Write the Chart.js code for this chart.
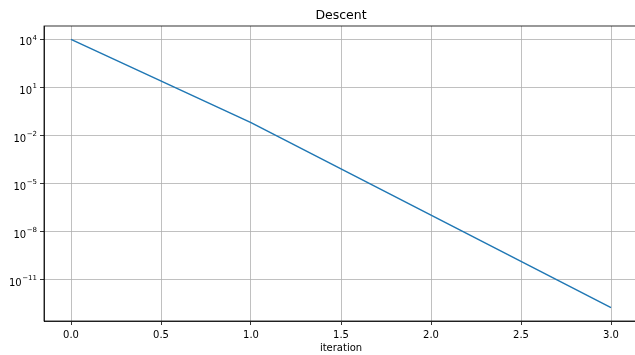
<!DOCTYPE html>
<html>
<head>
<meta charset="utf-8">
<script src="https://cdn.jsdelivr.net/npm/chart.js@4.4.1/dist/chart.umd.min.js"></script>
<style>
  html, body { margin: 0; padding: 0; background: #fff; overflow: hidden; }
  #wrap { width: 640px; height: 355px; }
</style>
</head>
<body>
<div id="wrap"><canvas id="chart"></canvas></div>
<script>
// data
const iterations = [0, 1, 2, 3]
const errors = [1e4, 6.5e-2, 1.1e-7, 1.9e-13]
const xTicks = [0, 0.5, 1, 1.5, 2, 2.5, 3]
const yTicks = [1e4, 1e1, 1e-2, 1e-5, 1e-8, 1e-11]
const yTickExponents = ['4', '1', '−2', '−5', '−8', '−11']

const font = "'DejaVu Sans', sans-serif"
Chart.defaults.font.family = font
Chart.defaults.color = '#000'

// matplotlib-style box round the axes
const frame = {
  id: 'frame',
  afterDraw(chart) {
    const { ctx, chartArea: a } = chart
    ctx.save()
    ctx.strokeStyle = '#000'
    ctx.lineWidth = 0.8
    ctx.strokeRect(a.left, a.top, a.right - a.left, a.bottom - a.top)
    ctx.restore()
  }
}

// "10" with a raised exponent, placed on the y scale's own tick positions
const powerLabels = {
  id: 'powerLabels',
  afterDraw(chart) {
    const { ctx } = chart
    const y = chart.scales.y
    const right = y.right - 7
    ctx.save()
    ctx.fillStyle = '#000'
    ctx.textBaseline = 'alphabetic'
    y.ticks.forEach((t) => {
      const py = y.getPixelForValue(t.value)
      const exp = yTickExponents[yTicks.indexOf(t.value)]
      if (exp === undefined) return
      ctx.font = `7px ${font}`
      const ew = ctx.measureText(exp).width
      ctx.textAlign = 'right'
      ctx.fillText(exp, right, py + 0.5)
      ctx.font = `10px ${font}`
      ctx.fillText('10', right - ew - 0.5, py + 6)
    })
    ctx.restore()
  }
}

new Chart(document.getElementById('chart'), {
  type: 'line',
  data: {
    datasets: [{
      data: iterations.map((x, i) => ({ x, y: errors[i] })),
      borderColor: '#1f77b4',
      borderWidth: 1.5,
      pointRadius: 0,
      tension: 0,
      fill: false
    }]
  },
  options: {
    responsive: true,
    maintainAspectRatio: false,
    animation: false,
    layout: { padding: { left: 0, right: 2, top: 0, bottom: 0 } },
    plugins: {
      legend: { display: false },
      tooltip: { enabled: false },
      title: {
        display: true,
        text: 'Descent',
        fullSize: false,
        color: '#000',
        font: { size: 12.5, weight: 'normal', family: font },
        padding: { top: 8, bottom: 3 }
      }
    },
    scales: {
      x: {
        type: 'linear',
        min: -0.15,
        max: 3.15,
        afterBuildTicks: (scale) => { scale.ticks = xTicks.map(v => ({ value: v })) },
        afterFit: (scale) => { scale.height = 34 },
        ticks: {
          callback: (v) => v.toFixed(1),
          font: { size: 10 },
          padding: 4,
          maxRotation: 0
        },
        grid: { color: '#b0b0b0', lineWidth: 0.8, tickColor: '#000', tickLength: 4 },
        border: { color: '#000', width: 0.8 },
        title: {
          display: true,
          text: 'iteration',
          font: { size: 10 },
          padding: { top: 1, bottom: 1 }
        }
      },
      y: {
        type: 'logarithmic',
        min: Math.pow(10, -13.56),
        max: Math.pow(10, 4.836),
        afterBuildTicks: (scale) => { scale.ticks = yTicks.map(v => ({ value: v })) },
        afterFit: (scale) => { scale.width = 44 },
        ticks: { display: false },
        grid: { color: '#b0b0b0', lineWidth: 0.8, tickColor: '#000', tickLength: 4 },
        border: { color: '#000', width: 0.8 }
      }
    }
  },
  plugins: [frame, powerLabels]
})
</script>
</body>
</html>
